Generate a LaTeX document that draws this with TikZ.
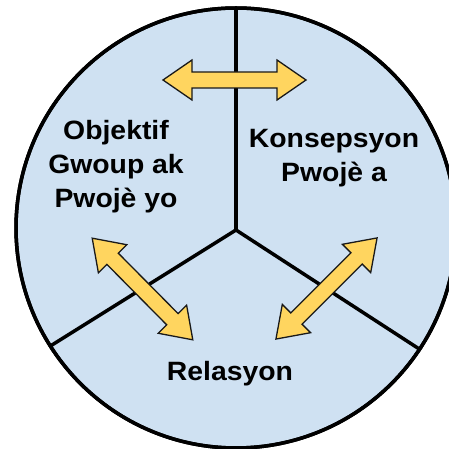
\documentclass[tikz,border=0pt]{standalone}
\usepackage{fontspec}
\setmainfont{Liberation Sans}
\definecolor{paleblue}{RGB}{207,225,242}
\definecolor{arrowyellow}{RGB}{255,213,95}
\definecolor{edgegray}{RGB}{25,25,25}
\tikzset{
  wheel/.style={circle, draw=black, line width=3.5pt, fill=paleblue, minimum size=440pt, inner sep=0pt},
  spoke/.style={draw=black, line width=3.5pt},
  label/.style={align=center, anchor=base, inner sep=0pt,
    font=\addfontfeature{FakeStretch=1.07}\fontsize{26.5}{34}\bfseries\selectfont},
  darrow/.pic={
    \draw[draw=edgegray, line width=1.3pt, fill=arrowyellow, line join=miter]
      (-71.5,0) -- (-42.5,20) -- (-42.5,8) -- (42.5,8) -- (42.5,20) -- (71.5,0)
      -- (42.5,-20) -- (42.5,-8) -- (-42.5,-8) -- (-42.5,-20) -- cycle;
  }
}
\begin{document}
\begin{tikzpicture}[x=1pt,y=1pt]
\useasboundingbox (0,0) rectangle (449,449);
\node[wheel] (circ) at (236,221) {};
\coordinate (hub) at (236,219);
\begin{scope}
  \clip (236,221) circle (219pt);
  \draw[spoke] (hub) -- (236,449);
  \draw[spoke] (hub) -- ++(212:240);
  \draw[spoke] (hub) -- ++(-33:240);
\end{scope}
\draw[black, line width=3.5pt] (236,221) circle (220pt);
\pic at (234.5,369) {darrow};
\pic[rotate=-45.3] at (142.5,160) {darrow};
\pic[rotate=45] at (326.5,160.5) {darrow};
\node[label] (goal) at (116,241) {Objektif\\Gwoup ak\\Pwojè yo};
\node[label] (design) at (334,267) {Konsepsyon\\Pwojè a};
\node[label] (rel) at (230,68) {Relasyon};
\end{tikzpicture}
\end{document}
